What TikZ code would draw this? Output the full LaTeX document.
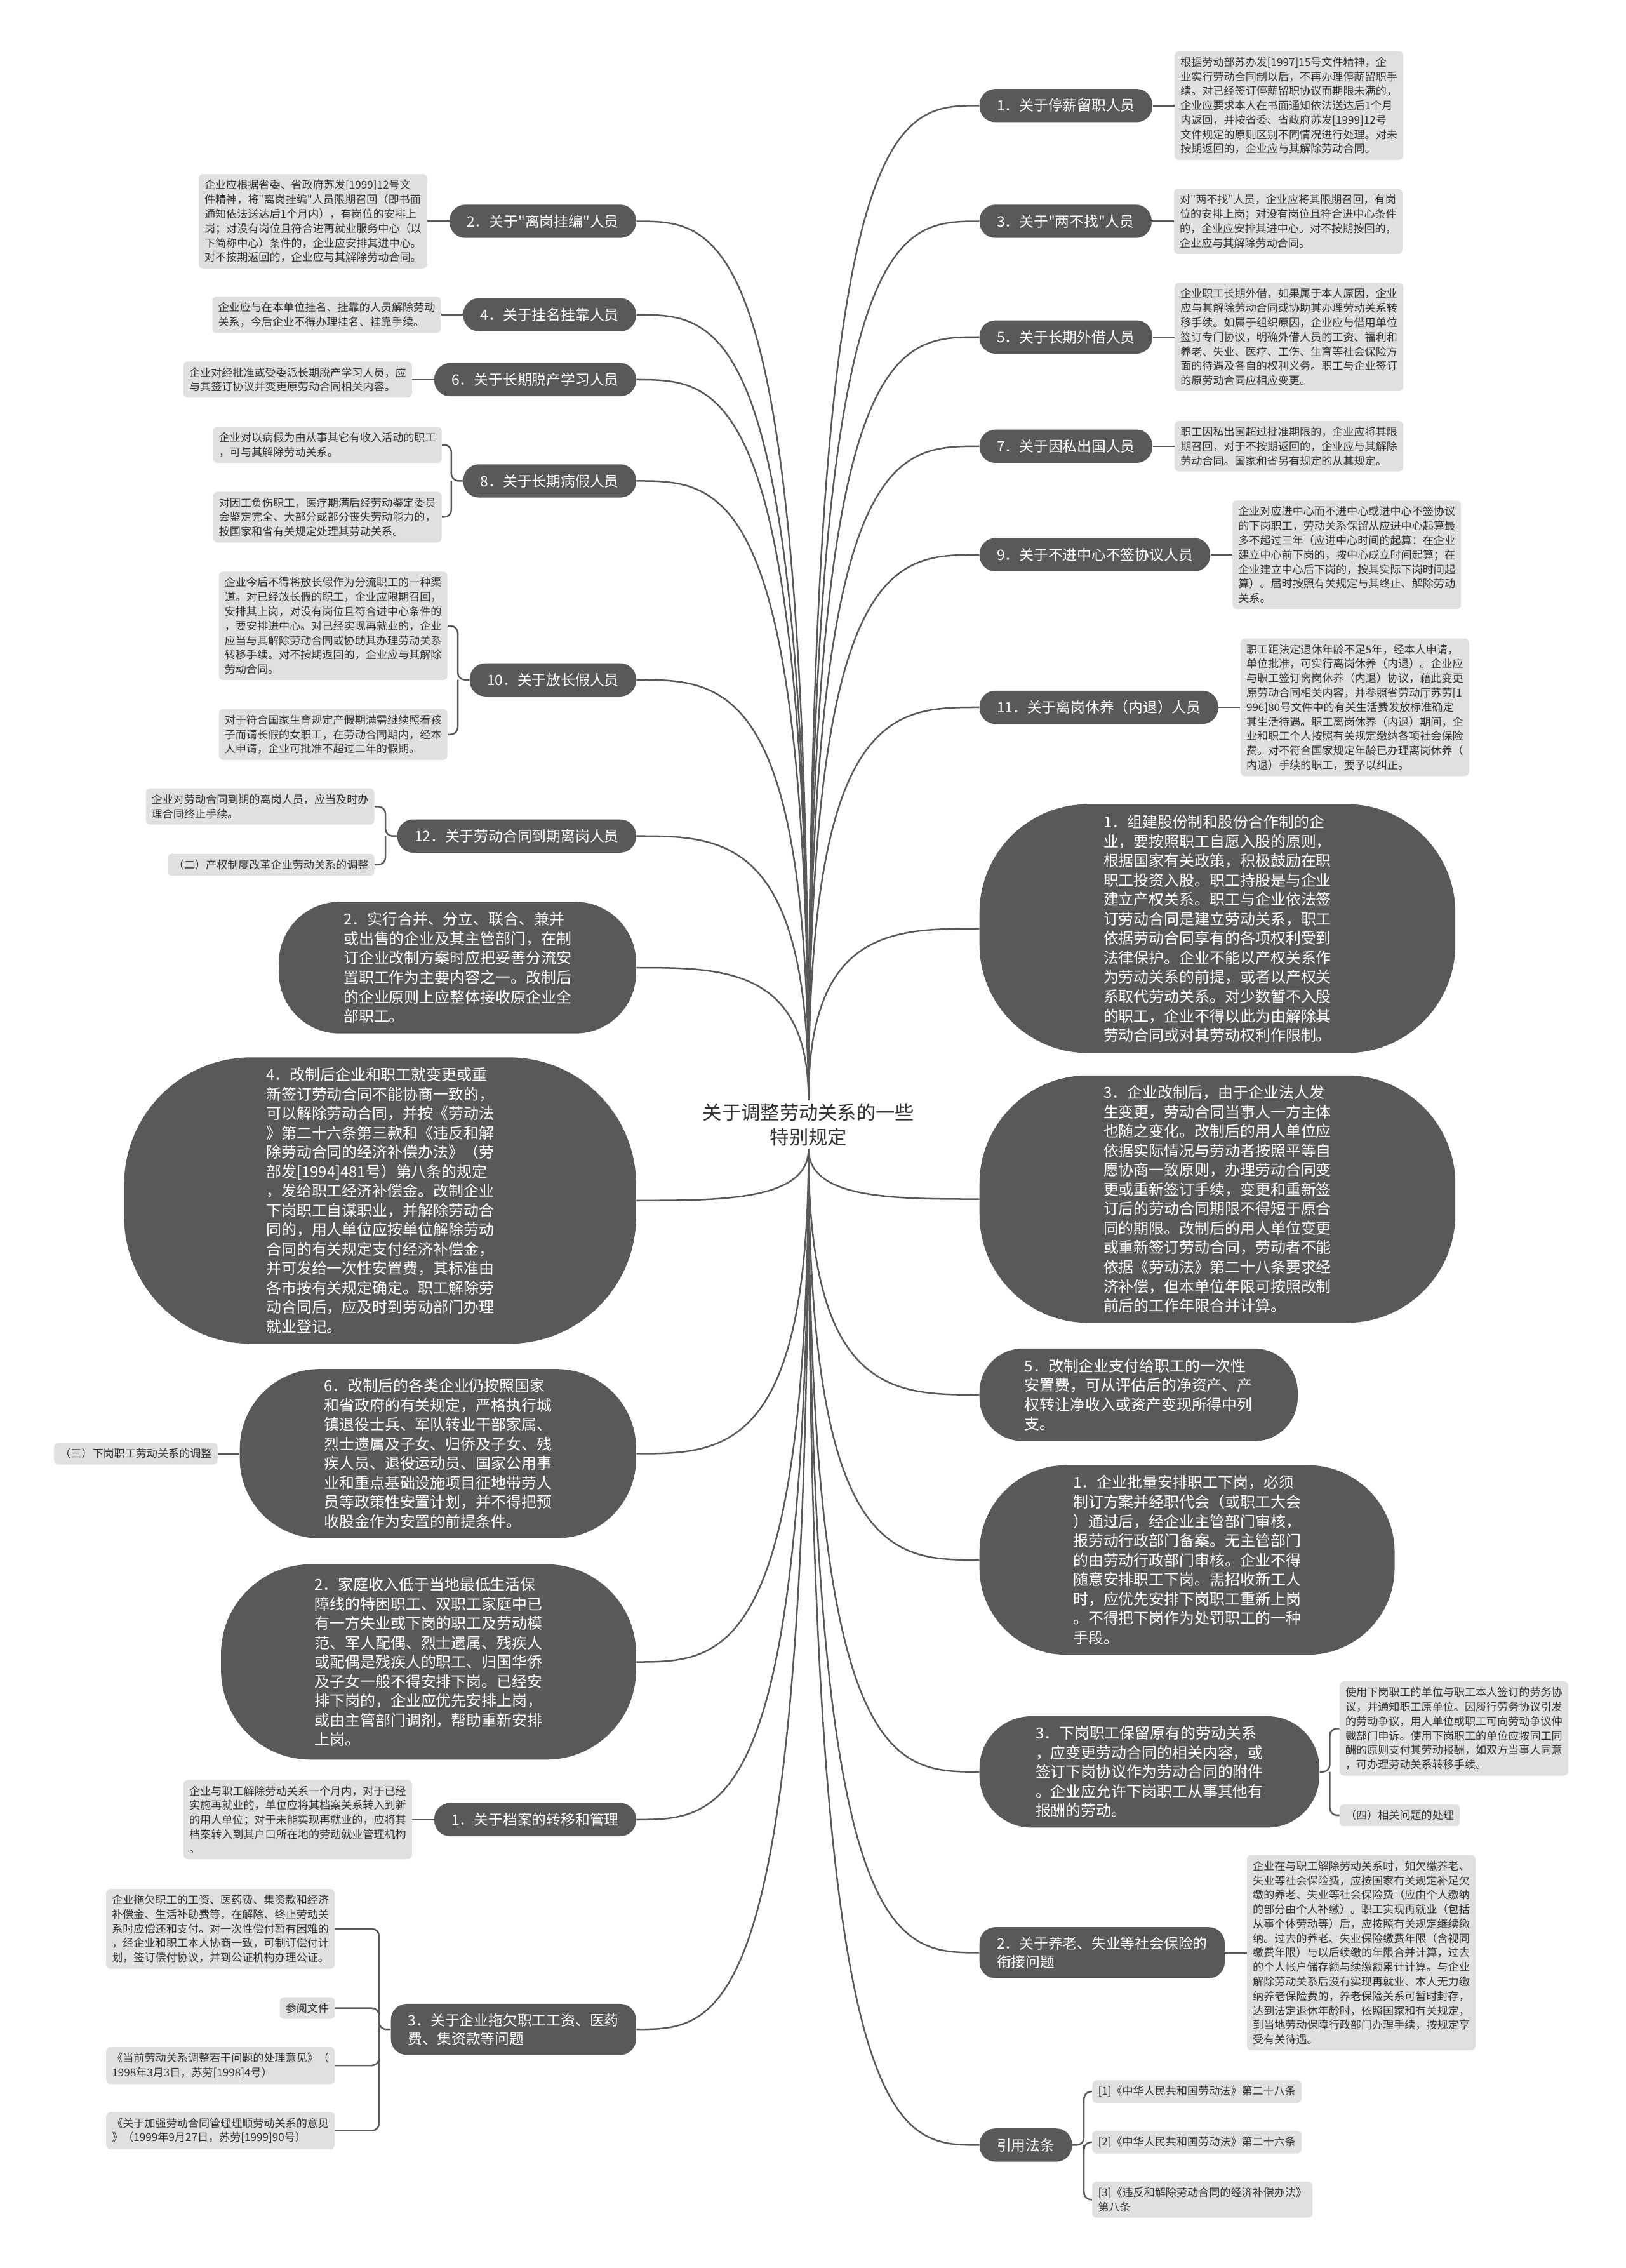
\documentclass[tikz,border=0pt]{standalone}
\usepackage{fontspec}
\setmainfont{Noto Sans CJK SC}[Ligatures=TeXOff]
\usetikzlibrary{calc,positioning}

\definecolor{darkfill}{HTML}{595959}
\definecolor{lightfill}{HTML}{E0E0E0}
\definecolor{leafink}{HTML}{333333}

\begin{document}
\begin{tikzpicture}[x=1pt, y=-1pt,
  % root title: plain text
  rootbox/.style={text=leafink, align=center, inner sep=2pt,
                  font=\fontsize{13.3}{17}\selectfont},
  % topics next to the root: dark pill
  darkbox/.style={fill=darkfill, text=white, rounded corners=11pt, inner xsep=12pt,
                  inner ysep=6.5pt, minimum height=23pt, align=left,
                  font=\fontsize{10}{13}\selectfont},
  % long topics: dark rounded bubble, size given per node
  darkbubble/.style={fill=darkfill, text=white, inner sep=0pt, align=left,
                     font=\fontsize{10.5}{13.4}\selectfont},
  % detail text: light gray box
  graybox/.style={fill=lightfill, text=leafink, rounded corners=3pt, inner xsep=4pt,
                  inner ysep=4pt, align=left, font=\fontsize{7.5}{10}\selectfont},
  link/.style={draw=darkfill, line width=1.1pt},
  rootlink/.style={link, to path={.. controls (\tikztostart |- \tikztotarget)
                   and ($(\tikztostart |- \tikztotarget)!0.5!(\tikztotarget)$) .. (\tikztotarget)}}
]
  \fill[white] (0,0) rectangle (1124,1568);
  \useasboundingbox (0,0) rectangle (1124,1568);

  % Root
  \node[rootbox] (root) at (559,777.5) {关于调整劳动关系的一些\\特别规定};

  % ---------- Right side ----------
  \node[darkbox, anchor=west] (tingxin) at (677,73) {1．关于停薪留职人员};
  \node[graybox, right=15pt of tingxin] (tingxin_txt) {根据劳动部苏办发[1997]15号文件精神，企\\业实行劳动合同制以后，不再办理停薪留职手\\续。对已经签订停薪留职协议而期限未满的，\\企业应要求本人在书面通知依法送达后1个月\\内返回，并按省委、省政府苏发[1999]12号\\文件规定的原则区别不同情况进行处理。对未\\按期返回的，企业应与其解除劳动合同。};

  \node[darkbox, anchor=west] (liangbuzhao) at (677,153) {3．关于"两不找"人员};
  \node[graybox, right=15pt of liangbuzhao] (liangbuzhao_txt) {对"两不找"人员，企业应将其限期召回，有岗\\位的安排上岗；对没有岗位且符合进中心条件\\的，企业应安排其进中心。对不按期按回的，\\企业应与其解除劳动合同。};

  \node[darkbox, anchor=west] (waijie) at (677,233) {5．关于长期外借人员};
  \node[graybox, right=15pt of waijie] (waijie_txt) {企业职工长期外借，如果属于本人原因，企业\\应与其解除劳动合同或协助其办理劳动关系转\\移手续。如属于组织原因，企业应与借用单位\\签订专门协议，明确外借人员的工资、福利和\\养老、失业、医疗、工伤、生育等社会保险方\\面的待遇及各自的权利义务。职工与企业签订\\的原劳动合同应相应变更。};

  \node[darkbox, anchor=west] (chuguo) at (677,308.5) {7．关于因私出国人员};
  \node[graybox, right=15pt of chuguo] (chuguo_txt) {职工因私出国超过批准期限的，企业应将其限\\期召回，对于不按期返回的，企业应与其解除\\劳动合同。国家和省另有规定的从其规定。};

  \node[darkbox, anchor=west] (bujin) at (677,383.5) {9．关于不进中心不签协议人员};
  \node[graybox, right=15pt of bujin] (bujin_txt) {企业对应进中心而不进中心或进中心不签协议\\的下岗职工，劳动关系保留从应进中心起算最\\多不超过三年（应进中心时间的起算：在企业\\建立中心前下岗的，按中心成立时间起算；在\\企业建立中心后下岗的，按其实际下岗时间起\\算）。届时按照有关规定与其终止、解除劳动\\关系。};

  \node[darkbox, anchor=west] (neitui) at (677,489) {11．关于离岗休养（内退）人员};
  \node[graybox, right=15pt of neitui] (neitui_txt) {职工距法定退休年龄不足5年，经本人申请，\\单位批准，可实行离岗休养（内退）。企业应\\与职工签订离岗休养（内退）协议，藉此变更\\原劳动合同相关内容，并参照省劳动厅苏劳[1\\996]80号文件中的有关生活费发放标准确定\\其生活待遇。职工离岗休养（内退）期间，企\\业和职工个人按照有关规定缴纳各项社会保险\\费。对不符合国家规定年龄已办理离岗休养（\\内退）手续的职工，要予以纠正。};

  \node[darkbubble, anchor=west, minimum width=329pt, minimum height=172pt,
        rounded corners=75pt] (gufen) at (677,642) {1．组建股份制和股份合作制的企\\业，要按照职工自愿入股的原则，\\根据国家有关政策，积极鼓励在职\\职工投资入股。职工持股是与企业\\建立产权关系。职工与企业依法签\\订劳动合同是建立劳动关系，职工\\依据劳动合同享有的各项权利受到\\法律保护。企业不能以产权关系作\\为劳动关系的前提，或者以产权关\\系取代劳动关系。对少数暂不入股\\的职工，企业不得以此为由解除其\\劳动合同或对其劳动权利作限制。};

  \node[darkbubble, anchor=west, minimum width=329pt, minimum height=171pt,
        rounded corners=75pt] (gaizhi) at (677,829) {3．企业改制后，由于企业法人发\\生变更，劳动合同当事人一方主体\\也随之变化。改制后的用人单位应\\依据实际情况与劳动者按照平等自\\愿协商一致原则，办理劳动合同变\\更或重新签订手续，变更和重新签\\订后的劳动合同期限不得短于原合\\同的期限。改制后的用人单位变更\\或重新签订劳动合同，劳动者不能\\依据《劳动法》第二十八条要求经\\济补偿，但本单位年限可按照改制\\前后的工作年限合并计算。};

  \node[darkbubble, anchor=west, minimum width=220pt, minimum height=64pt,
        rounded corners=30pt] (anzhifei) at (677,964.3) {5．改制企业支付给职工的一次性\\安置费，可从评估后的净资产、产\\权转让净收入或资产变现所得中列\\支。};

  \node[darkbubble, anchor=west, minimum width=287pt, minimum height=131pt,
        rounded corners=60pt] (piliang) at (677,1078.5) {1．企业批量安排职工下岗，必须\\制订方案并经职代会（或职工大会\\）通过后，经企业主管部门审核，\\报劳动行政部门备案。无主管部门\\的由劳动行政部门审核。企业不得\\随意安排职工下岗。需招收新工人\\时，应优先安排下岗职工重新上岗\\。不得把下岗作为处罚职工的一种\\手段。};

  \node[darkbubble, anchor=west, minimum width=235pt, minimum height=77pt,
        rounded corners=36pt] (baoliu) at (677,1225) {3．下岗职工保留原有的劳动关系\\，应变更劳动合同的相关内容，或\\签订下岗协议作为劳动合同的附件\\。企业应允许下岗职工从事其他有\\报酬的劳动。};
  \node[graybox, anchor=west] (baoliu_txt) at (926,1195) {使用下岗职工的单位与职工本人签订的劳务协\\议，并通知职工原单位。因履行劳务协议引发\\的劳动争议，用人单位或职工可向劳动争议仲\\裁部门申诉。使用下岗职工的单位应按同工同\\酬的原则支付其劳动报酬，如双方当事人同意\\，可办理劳动关系转移手续。};
  \node[graybox, anchor=west] (baoliu_sub) at (926,1255) {（四）相关问题的处理};

  \node[darkbox, anchor=west] (shebao) at (677,1350) {2．关于养老、失业等社会保险的\\衔接问题};
  \node[graybox, right=15pt of shebao] (shebao_txt) {企业在与职工解除劳动关系时，如欠缴养老、\\失业等社会保险费，应按国家有关规定补足欠\\缴的养老、失业等社会保险费（应由个人缴纳\\的部分由个人补缴）。职工实现再就业（包括\\从事个体劳动等）后，应按照有关规定继续缴\\纳。过去的养老、失业保险缴费年限（含视同\\缴费年限）与以后续缴的年限合并计算，过去\\的个人帐户储存额与续缴额累计计算。与企业\\解除劳动关系后没有实现再就业、本人无力缴\\纳养老保险费的，养老保险关系可暂时封存，\\达到法定退休年龄时，依照国家和有关规定，\\到当地劳动保障行政部门办理手续，按规定享\\受有关待遇。};

  \node[darkbox, anchor=west] (fatiao) at (677,1483) {引用法条};
  \node[graybox, anchor=west] (fatiao_a) at (755,1446) {[1]《中华人民共和国劳动法》第二十八条};
  \node[graybox, anchor=west] (fatiao_b) at (755,1481) {[2]《中华人民共和国劳动法》第二十六条};
  \node[graybox, anchor=west] (fatiao_c) at (755,1520.7) {[3]《违反和解除劳动合同的经济补偿办法》\\第八条};

  % ---------- Left side ----------
  \node[darkbox, anchor=east] (guabian) at (440,153) {2．关于"离岗挂编"人员};
  \node[graybox, left=15pt of guabian] (guabian_txt) {企业应根据省委、省政府苏发[1999]12号文\\件精神，将"离岗挂编"人员限期召回（即书面\\通知依法送达后1个月内），有岗位的安排上\\岗；对没有岗位且符合进再就业服务中心（以\\下简称中心）条件的，企业应安排其进中心。\\对不按期返回的，企业应与其解除劳动合同。};

  \node[darkbox, anchor=east] (guaming) at (440,217.6) {4．关于挂名挂靠人员};
  \node[graybox, left=15pt of guaming] (guaming_txt) {企业应与在本单位挂名、挂靠的人员解除劳动\\关系，今后企业不得办理挂名、挂靠手续。};

  \node[darkbox, anchor=east] (tuochan) at (440,262.5) {6．关于长期脱产学习人员};
  \node[graybox, left=15pt of tuochan] (tuochan_txt) {企业对经批准或受委派长期脱产学习人员，应\\与其签订协议并变更原劳动合同相关内容。};

  \node[darkbox, anchor=east] (bingjia) at (440,332.5) {8．关于长期病假人员};
  \node[graybox, anchor=east] (bingjia_a) at (305.6,307.5) {企业对以病假为由从事其它有收入活动的职工\\，可与其解除劳动关系。};
  \node[graybox, anchor=east] (bingjia_b) at (305.6,357.5) {对因工负伤职工，医疗期满后经劳动鉴定委员\\会鉴定完全、大部分或部分丧失劳动能力的，\\按国家和省有关规定处理其劳动关系。};

  \node[darkbox, anchor=east] (changjia) at (440,470) {10．关于放长假人员};
  \node[graybox, anchor=east] (changjia_a) at (309.5,432.7) {企业今后不得将放长假作为分流职工的一种渠\\道。对已经放长假的职工，企业应限期召回，\\安排其上岗，对没有岗位且符合进中心条件的\\，要安排进中心。对已经实现再就业的，企业\\应当与其解除劳动合同或协助其办理劳动关系\\转移手续。对不按期返回的，企业应与其解除\\劳动合同。};
  \node[graybox, anchor=east] (changjia_b) at (309.5,507.8) {对于符合国家生育规定产假期满需继续照看孩\\子而请长假的女职工，在劳动合同期内，经本\\人申请，企业可批准不超过二年的假期。};

  \node[darkbox, anchor=east] (daoqi) at (440,578) {12．关于劳动合同到期离岗人员};
  \node[graybox, anchor=east] (daoqi_a) at (259,557.6) {企业对劳动合同到期的离岗人员，应当及时办\\理合同终止手续。};
  \node[graybox, anchor=east] (daoqi_b) at (259,597.8) {（二）产权制度改革企业劳动关系的调整};

  \node[darkbubble, anchor=east, minimum width=247pt, minimum height=91pt,
        rounded corners=42pt] (hebing) at (440,669) {2．实行合并、分立、联合、兼并\\或出售的企业及其主管部门，在制\\订企业改制方案时应把妥善分流安\\置职工作为主要内容之一。改制后\\的企业原则上应整体接收原企业全\\部职工。};

  \node[darkbubble, anchor=east, minimum width=354pt, minimum height=198pt,
        rounded corners=88pt] (jiechu) at (440,830) {4．改制后企业和职工就变更或重\\新签订劳动合同不能协商一致的，\\可以解除劳动合同，并按《劳动法\\》第二十六条第三款和《违反和解\\除劳动合同的经济补偿办法》（劳\\部发[1994]481号）第八条的规定\\，发给职工经济补偿金。改制企业\\下岗职工自谋职业，并解除劳动合\\同的，用人单位应按单位解除劳动\\合同的有关规定支付经济补偿金，\\并可发给一次性安置费，其标准由\\各市按有关规定确定。职工解除劳\\动合同后，应及时到劳动部门办理\\就业登记。};

  \node[darkbubble, anchor=east, minimum width=274pt, minimum height=117pt,
        rounded corners=55pt] (anzhi) at (440,1005) {6．改制后的各类企业仍按照国家\\和省政府的有关规定，严格执行城\\镇退役士兵、军队转业干部家属、\\烈士遗属及子女、归侨及子女、残\\疾人员、退役运动员、国家公用事\\业和重点基础设施项目征地带劳人\\员等政策性安置计划，并不得把预\\收股金作为安置的前提条件。};
  \node[graybox, left=15pt of anzhi] (anzhi_txt) {（三）下岗职工劳动关系的调整};

  \node[darkbubble, anchor=east, minimum width=287pt, minimum height=135pt,
        rounded corners=62pt] (kunnan) at (440,1149) {2．家庭收入低于当地最低生活保\\障线的特困职工、双职工家庭中已\\有一方失业或下岗的职工及劳动模\\范、军人配偶、烈士遗属、残疾人\\或配偶是残疾人的职工、归国华侨\\及子女一般不得安排下岗。已经安\\排下岗的，企业应优先安排上岗，\\或由主管部门调剂，帮助重新安排\\上岗。};

  \node[darkbox, anchor=east] (dangan) at (440,1258) {1．关于档案的转移和管理};
  \node[graybox, left=15pt of dangan] (dangan_txt) {企业与职工解除劳动关系一个月内，对于已经\\实施再就业的，单位应将其档案关系转入到新\\的用人单位；对于未能实现再就业的，应将其\\档案转入到其户口所在地的劳动就业管理机构\\。};

  \node[darkbox, anchor=east] (tuoqian) at (440,1403) {3．关于企业拖欠职工工资、医药\\费、集资款等问题};
  \node[graybox, anchor=east] (tuoqian_a) at (231.6,1333.5) {企业拖欠职工的工资、医药费、集资款和经济\\补偿金、生活补助费等，在解除、终止劳动关\\系时应偿还和支付。对一次性偿付暂有困难的\\，经企业和职工本人协商一致，可制订偿付计\\划，签订偿付协议，并到公证机构办理公证。};
  \node[graybox, anchor=east] (tuoqian_b) at (231.6,1388.3) {参阅文件};
  \node[graybox, anchor=east] (tuoqian_c) at (231.6,1428) {《当前劳动关系调整若干问题的处理意见》（\\1998年3月3日，苏劳[1998]4号）};
  \node[graybox, anchor=east] (tuoqian_d) at (231.6,1473) {《关于加强劳动合同管理理顺劳动关系的意见\\》（1999年9月27日，苏劳[1999]90号）};

  % ---------- Root to topics ----------
  % upper half leaves the root at its top
  \draw[rootlink] (root.north) to (tingxin.west);
  \draw[rootlink] (root.north) to (liangbuzhao.west);
  \draw[rootlink] (root.north) to (waijie.west);
  \draw[rootlink] (root.north) to (chuguo.west);
  \draw[rootlink] (root.north) to (bujin.west);
  \draw[rootlink] (root.north) to (neitui.west);
  \draw[rootlink] (root.north) to (gufen.west);
  \draw[rootlink] (root.north) to (guabian.east);
  \draw[rootlink] (root.north) to (guaming.east);
  \draw[rootlink] (root.north) to (tuochan.east);
  \draw[rootlink] (root.north) to (bingjia.east);
  \draw[rootlink] (root.north) to (changjia.east);
  \draw[rootlink] (root.north) to (daoqi.east);
  \draw[rootlink] (root.north) to (hebing.east);
  % lower half leaves it at its bottom
  \draw[rootlink] (root.south) to (gaizhi.west);
  \draw[rootlink] (root.south) to (anzhifei.west);
  \draw[rootlink] (root.south) to (piliang.west);
  \draw[rootlink] (root.south) to (baoliu.west);
  \draw[rootlink] (root.south) to (shebao.west);
  \draw[rootlink] (root.south) to (fatiao.west);
  \draw[rootlink] (root.south) to (jiechu.east);
  \draw[rootlink] (root.south) to (anzhi.east);
  \draw[rootlink] (root.south) to (kunnan.east);
  \draw[rootlink] (root.south) to (dangan.east);
  \draw[rootlink] (root.south) to (tuoqian.east);

  % ---------- Topics to their text ----------
  \draw[link] (tingxin) -- (tingxin_txt);
  \draw[link] (liangbuzhao) -- (liangbuzhao_txt);
  \draw[link] (waijie) -- (waijie_txt);
  \draw[link] (chuguo) -- (chuguo_txt);
  \draw[link] (bujin) -- (bujin_txt);
  \draw[link] (neitui) -- (neitui_txt);
  \draw[link] (shebao) -- (shebao_txt);
  \draw[link] (guabian) -- (guabian_txt);
  \draw[link] (guaming) -- (guaming_txt);
  \draw[link] (tuochan) -- (tuochan_txt);
  \draw[link] (anzhi) -- (anzhi_txt);
  \draw[link] (dangan) -- (dangan_txt);

  % brackets for topics with several boxes
  \draw[link, rounded corners=5pt] (baoliu.east) -- ++(7,0) coordinate (baoliu_fork) |- (baoliu_txt.west);
  \draw[link, rounded corners=5pt] (baoliu_fork) |- (baoliu_sub.west);
  \draw[link, rounded corners=5pt] (fatiao.east) -- ++(8,0) coordinate (fatiao_fork) |- (fatiao_a.west);
  \draw[link, rounded corners=5pt] (fatiao_fork) |- (fatiao_b.west);
  \draw[link, rounded corners=5pt] (fatiao_fork) |- (fatiao_c.west);
  \draw[link, rounded corners=5pt] (bingjia.west) -- ++(-8,0) coordinate (bingjia_fork) |- (bingjia_a.east);
  \draw[link, rounded corners=5pt] (bingjia_fork) |- (bingjia_b.east);
  \draw[link, rounded corners=5pt] (changjia.west) -- ++(-8,0) coordinate (changjia_fork) |- (changjia_a.east);
  \draw[link, rounded corners=5pt] (changjia_fork) |- (changjia_b.east);
  \draw[link, rounded corners=5pt] (daoqi.west) -- ++(-8,0) coordinate (daoqi_fork) |- (daoqi_a.east);
  \draw[link, rounded corners=5pt] (daoqi_fork) |- (daoqi_b.east);
  \draw[link, rounded corners=5pt] (tuoqian.west) -- ++(-8,0) coordinate (tuoqian_fork) |- (tuoqian_a.east);
  \draw[link, rounded corners=5pt] (tuoqian_fork) |- (tuoqian_b.east);
  \draw[link, rounded corners=5pt] (tuoqian_fork) |- (tuoqian_c.east);
  \draw[link, rounded corners=5pt] (tuoqian_fork) |- (tuoqian_d.east);
\end{tikzpicture}
\end{document}
